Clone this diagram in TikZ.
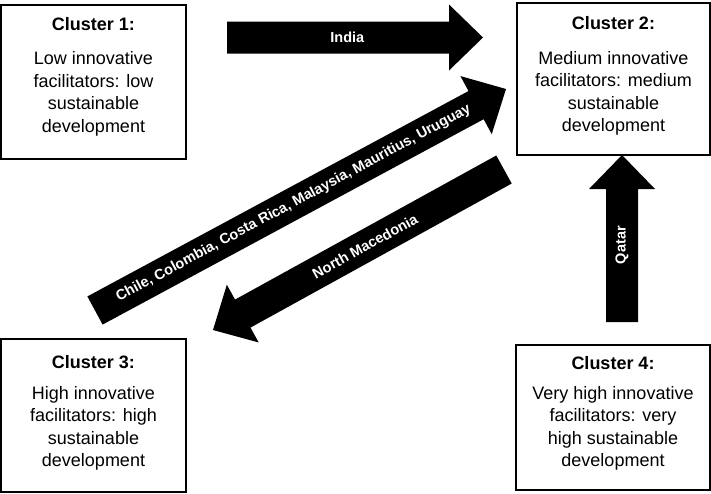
\documentclass[tikz,border=0pt]{standalone}
\usepackage{fontspec}
\setmainfont{Liberation Sans}
\usetikzlibrary{calc}
\newcommand\BlkArrow[2]{%
  \coordinate (#1base) at ($(#2)!34pt!(#1)$);
  \fill[black] ($(#1)!16pt!90:(#2)$) -- ($(#1base)!16pt!90:(#2)$) -- ($(#1base)!33pt!90:(#2)$) -- (#2) -- ($(#1base)!33pt!-90:(#2)$) -- ($(#1base)!16pt!-90:(#2)$) -- ($(#1)!16pt!-90:(#2)$) -- cycle;}
\begin{document}
\begin{tikzpicture}[x=1pt,y=-1pt,
  cbox/.style={draw=black, line width=2pt, fill=none, inner sep=0pt},
  ctitle/.style={font=\bfseries\fontsize{18}{22.5}\selectfont, inner sep=0pt},
  cbody/.style={font=\fontsize{18}{22.5}\selectfont, align=center, inner sep=0pt},
  alabel/.style={text=white, font=\bfseries\fontsize{14.5}{17}\selectfont, sloped, inner sep=0pt}]
\useasboundingbox (0,0) rectangle (711,493);
% boxes
\node[cbox, minimum width=185pt, minimum height=154pt] (c1) at (93.5,82) {};
\node[cbox, minimum width=193pt, minimum height=152pt] (c2) at (613.5,79) {};
\node[cbox, minimum width=185pt, minimum height=153pt] (c3) at (93.5,415.5) {};
\node[cbox, minimum width=194pt, minimum height=145pt] (c4) at (613,417.5) {};
% texts
\node[ctitle] (t1) at (93.5,24) {Cluster 1:};
\node[cbody] (b1) at (93.5,94) {Low innovative\\facilitators: low\\sustainable\\development};
\node[ctitle] (t2) at (613.5,23) {Cluster 2:};
\node[cbody] (b2) at (613.5,93.5) {Medium innovative\\facilitators: medium\\sustainable\\development};
\node[ctitle] (t3) at (93.5,362) {Cluster 3:};
\node[cbody] (b3) at (93.5,428.5) {High innovative\\facilitators: high\\sustainable\\development};
\node[ctitle] (t4) at (613,363) {Cluster 4:};
\node[cbody] (b4) at (613,428.5) {Very high innovative\\facilitators: very\\high sustainable\\development};
% arrow end points
\coordinate (iT) at (227,37.5);
\coordinate (iP) at (483,37.5);
\coordinate (qT) at (622,322);
\coordinate (qP) at (622,155);
\coordinate (cT) at (95,310.5);
\coordinate (cP) at (506,89);
\coordinate (nT) at (504,169.5);
\coordinate (nP) at (213,330);
\BlkArrow{iT}{iP}
\BlkArrow{qT}{qP}
\BlkArrow{cT}{cP}
\BlkArrow{nT}{nP}
\path (iT) -- (iP) node[alabel, pos=0.47] {India};
\path (qT) -- (qP) node[alabel, pos=0.46] {Qatar};
\path (cT) -- (cP) node[alabel, pos=0.483] {Chile, Colombia, Costa Rica, Malaysia, Mauritius, Uruguay};
\path (nT) -- (nP) node[alabel, pos=0.478] {North Macedonia};
\end{tikzpicture}
\end{document}
